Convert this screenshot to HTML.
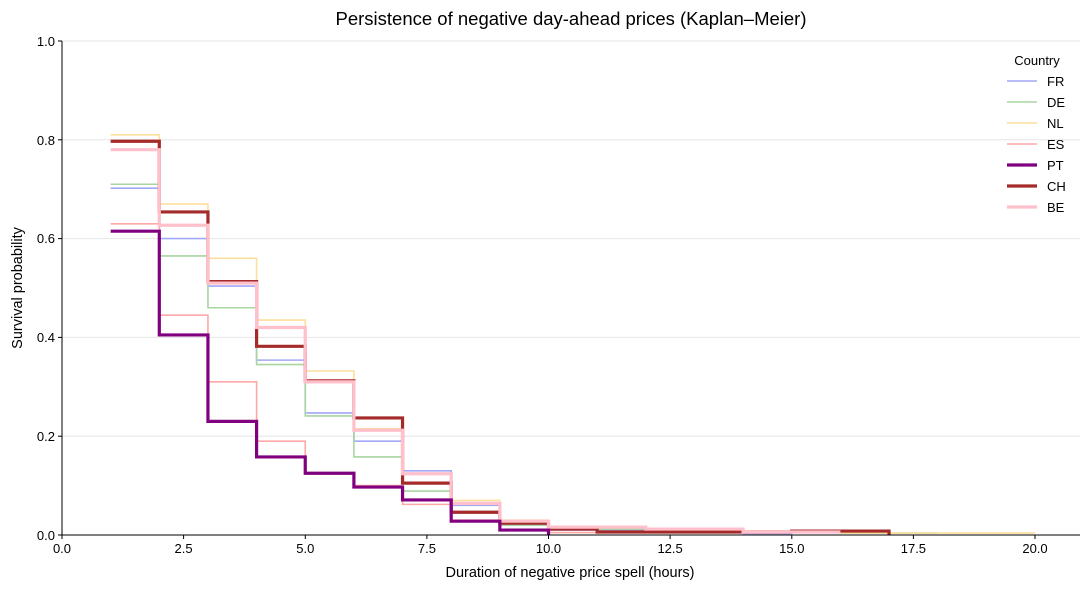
<!DOCTYPE html><html><head><meta charset="utf-8"><style>body{margin:0;background:#fff}svg{display:block;font-family:"Liberation Sans","DejaVu Sans",sans-serif}</style></head><body>
<svg width="1089" height="589" viewBox="0 0 1089 589">
<rect width="1089" height="589" fill="#fff"/>
<g stroke="#e6e6e6" stroke-width="1">
<line x1="62" x2="1080" y1="436.2" y2="436.2"/><line x1="62" x2="1080" y1="337.4" y2="337.4"/><line x1="62" x2="1080" y1="238.6" y2="238.6"/><line x1="62" x2="1080" y1="139.8" y2="139.8"/><line x1="62" x2="1080" y1="41" y2="41"/>
</g>
<g fill="none" transform="translate(62,535) scale(48.65,-494)">
<path vector-effect="non-scaling-stroke" stroke="#a3a8f5" stroke-width="1.6" d="M1 .702H2V.6H3V.504H4V.354H5V.247H6V.19H7V.13H8V.06H9V.02H10V.01H12V.006H14V.003H15"/>
<path vector-effect="non-scaling-stroke" stroke="#a8d5a0" stroke-width="1.6" d="M1 .71H2V.565H3V.46H4V.345H5V.241H6V.158H7V.089H8V.045H9V.02H10V.012H12V.008H14V.005H16V.004H18"/>
<path vector-effect="non-scaling-stroke" stroke="#fddf9c" stroke-width="1.6" d="M1 .81H2V.67H3V.56H4V.435H5V.332H6V.215H7V.125H8V.07H9V.03H10V.015H12V.012H14V.008H16V.004H20"/>
<path vector-effect="non-scaling-stroke" stroke="#ffa8a8" stroke-width="1.6" d="M1 .63H2V.445H3V.31H4V.19H5V.125H6V.1H7V.062H8V.03H9V.01H10V.005H11"/>
<path vector-effect="non-scaling-stroke" stroke="#a52a2a" stroke-width="3.2" d="M1 .797H2V.654H3V.513H4V.382H5V.312H6V.237H7V.105H8V.046H9V.024H10V.012H11V.006H15V.008H17V0"/>
<path vector-effect="non-scaling-stroke" stroke="#ffc0cb" stroke-width="3.2" d="M1 .78H2V.627H3V.51H4V.42H5V.31H6V.212H7V.124H8V.064H9V.028H10V.016H12V.012H14V.006H16"/>
<path vector-effect="non-scaling-stroke" stroke="#800080" stroke-width="3.2" d="M1 .615H2V.405H3V.23H4V.158H5V.125H6V.097H7V.071H8V.028H9V.01H10V0"/>
</g>
<g stroke="#000" stroke-width="1"><line x1="62" x2="62" y1="41" y2="535.5"/><line x1="61.5" x2="1080" y1="535" y2="535"/></g>
<g stroke="#000"><line x1="62" x2="62" y1="535" y2="539"/><line x1="183.6" x2="183.6" y1="535" y2="539"/><line x1="305.3" x2="305.3" y1="535" y2="539"/><line x1="426.9" x2="426.9" y1="535" y2="539"/><line x1="548.5" x2="548.5" y1="535" y2="539"/><line x1="670.1" x2="670.1" y1="535" y2="539"/><line x1="791.8" x2="791.8" y1="535" y2="539"/><line x1="913.4" x2="913.4" y1="535" y2="539"/><line x1="1035" x2="1035" y1="535" y2="539"/>
<line x1="58" x2="62" y1="535" y2="535"/><line x1="58" x2="62" y1="436.2" y2="436.2"/><line x1="58" x2="62" y1="337.4" y2="337.4"/><line x1="58" x2="62" y1="238.6" y2="238.6"/><line x1="58" x2="62" y1="139.8" y2="139.8"/><line x1="58" x2="62" y1="41" y2="41"/></g>
<g font-size="13" text-anchor="middle" fill="#000"><text x="62" y="553">0.0</text><text x="183.6" y="553">2.5</text><text x="305.3" y="553">5.0</text><text x="426.9" y="553">7.5</text><text x="548.5" y="553">10.0</text><text x="670.1" y="553">12.5</text><text x="791.8" y="553">15.0</text><text x="913.4" y="553">17.5</text><text x="1035" y="553">20.0</text></g>
<g font-size="13" text-anchor="end"><text x="55" y="540">0.0</text><text x="55" y="441">0.2</text><text x="55" y="342">0.4</text><text x="55" y="243">0.6</text><text x="55" y="145">0.8</text><text x="55" y="46">1.0</text></g>
<text x="570" y="577" font-size="14.5" text-anchor="middle">Duration of negative price spell (hours)</text>
<text transform="translate(22,288) rotate(-90)" font-size="14.5" text-anchor="middle">Survival probability</text>
<text x="571" y="25" font-size="18.5" text-anchor="middle">Persistence of negative day-ahead prices (Kaplan–Meier)</text>
<text x="1037" y="65" font-size="13" text-anchor="middle">Country</text>
<g font-size="13">
<line x1="1007" x2="1037" y1="81" y2="81" stroke="#a3a8f5" stroke-width="1.6"/><text x="1047" y="86">FR</text>
<line x1="1007" x2="1037" y1="102" y2="102" stroke="#a8d5a0" stroke-width="1.6"/><text x="1047" y="107">DE</text>
<line x1="1007" x2="1037" y1="123" y2="123" stroke="#fddf9c" stroke-width="1.6"/><text x="1047" y="128">NL</text>
<line x1="1007" x2="1037" y1="144" y2="144" stroke="#ffa8a8" stroke-width="1.6"/><text x="1047" y="149">ES</text>
<line x1="1007" x2="1037" y1="165" y2="165" stroke="#800080" stroke-width="3.2"/><text x="1047" y="170">PT</text>
<line x1="1007" x2="1037" y1="186" y2="186" stroke="#a52a2a" stroke-width="3.2"/><text x="1047" y="191">CH</text>
<line x1="1007" x2="1037" y1="207" y2="207" stroke="#ffc0cb" stroke-width="3.2"/><text x="1047" y="212">BE</text>
</g>
</svg></body></html>
